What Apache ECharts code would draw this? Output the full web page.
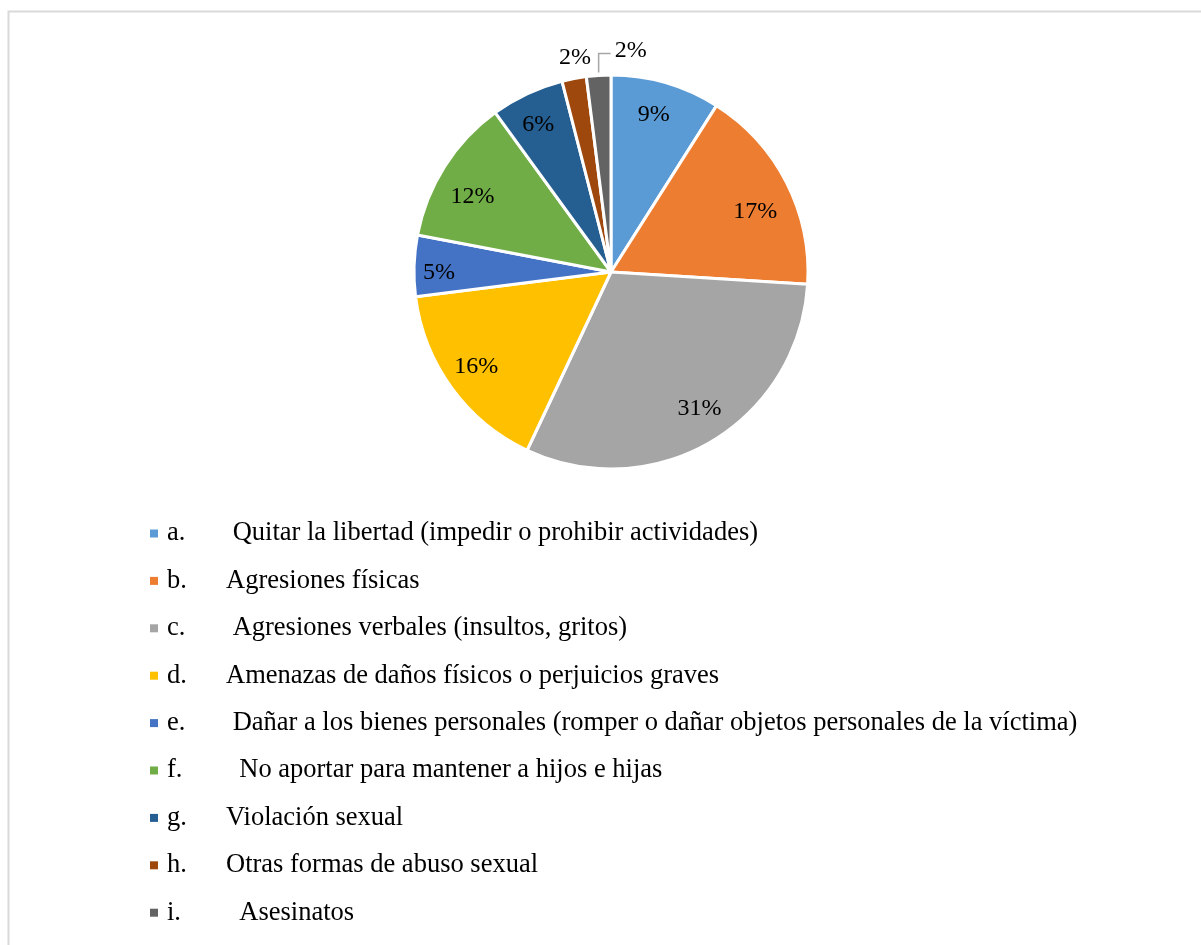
<!DOCTYPE html>
<html>
<head>
<meta charset="utf-8">
<script src="https://cdn.jsdelivr.net/npm/echarts@6/dist/echarts.min.js"></script>
<style>
    html, body { margin: 0; padding: 0; background: #fff; overflow: hidden; }
    #chart { width: 1201px; height: 945px; }
</style>
</head>
<body>
<div id="chart"></div>
<script>
// datos del gráfico
var letters = ['a.', 'b.', 'c.', 'd.', 'e.', 'f.', 'g.', 'h.', 'i.'];
var categories = [
    ' Quitar la libertad (impedir o prohibir actividades)',
    'Agresiones físicas',
    ' Agresiones verbales (insultos, gritos)',
    'Amenazas de daños físicos o perjuicios graves',
    ' Dañar a los bienes personales (romper o dañar objetos personales de la víctima)',
    '  No aportar para mantener a hijos e hijas',
    'Violación sexual',
    'Otras formas de abuso sexual',
    '  Asesinatos'
];
var values = [9, 17, 31, 16, 5, 12, 6, 2, 2];
var colors = ['#5B9BD5', '#ED7D31', '#A5A5A5', '#FFC000', '#4472C4', '#70AD47', '#255E91', '#9E480E', '#636363'];

var FONT = '"Liberation Serif", "Times New Roman", serif';
var outsideIdx = [7, 8]; // etiquetas fuera del sector
// pequeños ajustes de posición de etiquetas (como en Excel)
var labelNudge = [[-3, 0], [-2, 14], [5, -4], [-2, -2], [-8, 6], [0, 13], [-3, 1], [0, 0], [0, 0]];

var chart = echarts.init(document.getElementById('chart'));

var pieData = categories.map(function (name, i) {
    var out = outsideIdx.indexOf(i) >= 0;
    return {
        name: name,
        value: values[i],
        itemStyle: { color: colors[i] },
        label: { show: out },
        labelLine: { show: out }
    };
});

// etiquetas interiores (serie transparente, radio mayor)
var labelData = categories.map(function (name, i) {
    return {
        name: name,
        value: values[i],
        label: { show: outsideIdx.indexOf(i) < 0, offset: labelNudge[i] }
    };
});

var option = {
    animation: false,
    color: colors,
    graphic: [{
        type: 'rect',
        silent: true,
        shape: { x: 8.5, y: 11.5, width: 1400, height: 1100 },
        style: { fill: 'none', stroke: '#d9d9d9', lineWidth: 2 }
    }],
    legend: {
        orient: 'vertical',
        left: 150,
        top: 520,
        padding: 0,
        itemWidth: 8,
        itemHeight: 8,
        itemGap: 20.4,
        icon: 'rect',
        itemStyle: { borderWidth: 0 },
        data: categories,
        formatter: function (name) {
            var i = categories.indexOf(name);
            return '{l|' + letters[i] + '}{t|' + name + '}';
        },
        textStyle: {
            fontFamily: FONT,
            fontSize: 26.5,
            color: '#000',
            lineHeight: 26,
            rich: {
                l: { fontFamily: FONT, fontSize: 26.5, lineHeight: 26, color: '#000', width: 59, padding: [0, 0, 0, 4] },
                t: { fontFamily: FONT, fontSize: 26.5, lineHeight: 26, color: '#000' }
            }
        }
    },
    series: [{
        name: 'main',
        type: 'pie',
        center: [611, 272],
        radius: 197,
        startAngle: 90,
        clockwise: true,
        data: pieData,
        itemStyle: { borderColor: '#fff', borderWidth: 3 },
        label: {
            position: 'outside',
            fontFamily: FONT,
            fontSize: 24,
            color: '#000',
            formatter: function (p) { return p.value + '%'; }
        },
        labelLine: {
            length: 15,
            length2: 10,
            lineStyle: { color: '#a6a6a6', width: 1.5 }
        },
        labelLayout: function (p) {
            if (outsideIdx.indexOf(p.dataIndex) < 0) return {};
            var pts = p.labelLinePoints;
            if (!pts) return {};
            var x0 = pts[0][0], y0 = pts[0][1];
            if (p.dataIndex === 7) {
                return { x: x0 + 1, y: y0 - 21, align: 'center', verticalAlign: 'middle', labelLinePoints: [[x0, y0], [x0, y0], [x0, y0]] };
            }
            var ty = y0 - 22;
            return {
                x: x0 + 16, y: y0 - 25, align: 'left', verticalAlign: 'middle',
                labelLinePoints: [[x0, y0 - 3], [x0, ty], [x0 + 12, ty]]
            };
        },
        emphasis: { disabled: true }
    }, {
        name: 'labels',
        type: 'pie',
        center: [611, 272],
        radius: 322,
        startAngle: 90,
        clockwise: true,
        silent: true,
        data: labelData,
        itemStyle: { color: 'rgba(0,0,0,0)' },
        label: {
            position: 'inside',
            fontFamily: FONT,
            fontSize: 24,
            color: '#000',
            formatter: function (p) { return p.value + '%'; }
        },
        labelLine: { show: false },
        emphasis: { disabled: true }
    }]
};

chart.setOption(option);
</script>
</body>
</html>
